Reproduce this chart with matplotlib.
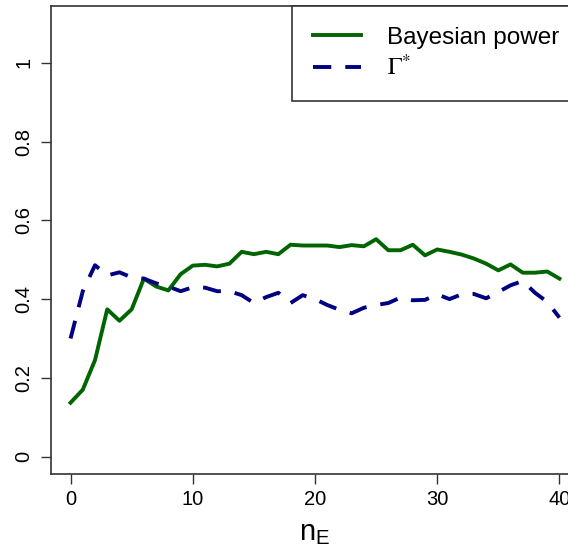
import matplotlib
matplotlib.use('Agg')
import matplotlib.pyplot as plt

plt.rcParams['font.family'] = ['Liberation Sans', 'DejaVu Sans']
plt.rcParams['mathtext.fontset'] = 'stix'

# values, n_E = 0..40
n_e = list(range(41))
bayes_power = [0.137, 0.170, 0.245, 0.374, 0.345, 0.374, 0.452, 0.432, 0.422, 0.463,
               0.485, 0.487, 0.483, 0.490, 0.520, 0.514, 0.520, 0.514, 0.538, 0.536,
               0.536, 0.536, 0.532, 0.537, 0.534, 0.552, 0.524, 0.524, 0.538, 0.511,
               0.526, 0.520, 0.513, 0.503, 0.490, 0.473, 0.488, 0.467, 0.467, 0.470,
               0.452]
gamma_star = [0.300, 0.420, 0.486, 0.460, 0.468, 0.455, 0.452, 0.440, 0.432, 0.420,
              0.430, 0.429, 0.420, 0.420, 0.410, 0.390, 0.405, 0.416, 0.390, 0.410,
              0.400, 0.385, 0.373, 0.364, 0.378, 0.385, 0.390, 0.404, 0.397, 0.398,
              0.412, 0.400, 0.412, 0.413, 0.402, 0.418, 0.435, 0.446, 0.416, 0.393,
              0.353]
x_ticks = [0, 10, 20, 30, 40]
y_ticks = [0, 0.2, 0.4, 0.6, 0.8, 1]
y_labels = ['0', '0.2', '0.4', '0.6', '0.8', '1']

W, H = 568, 547
fig = plt.figure(figsize=(W / 100, H / 100), dpi=100)
# plot region runs past the right edge of the picture, as in the reference
ax = fig.add_axes([51 / W, (H - 474) / H, (579 - 51) / W, (474 - 6) / H])

ax.plot(n_e, bayes_power, color='darkgreen', lw=2.8, label='Bayesian power')
ax.plot(n_e, gamma_star, color='navy', lw=2.8, dashes=(4.7, 3.6), label=r'$\Gamma^{*}$')

ax.set_xlim(-1.6, 41.6)
ax.set_ylim(-0.044, 1.144)
ax.set_xticks(x_ticks)
ax.set_yticks(y_ticks)
ax.set_yticklabels(y_labels, rotation=90, va='center')
ax.tick_params(axis='both', direction='out', length=7.5, width=1, color='#333333',
               labelsize=14.5, labelcolor='black')
ax.tick_params(axis='y', pad=5)
ax.tick_params(axis='x', pad=4)
for sp in ax.spines.values():
    sp.set_color('#333333')
    sp.set_linewidth(1.2)

ax.set_xlabel(r'$\mathregular{n_E}$', fontsize=21, labelpad=7)

leg = ax.legend(loc='upper left', bbox_to_anchor=((292 - 51) / 528, 1.0),
                borderaxespad=0, fontsize=17.5, frameon=True, fancybox=False,
                edgecolor='#333333', framealpha=1, handlelength=2.0,
                handletextpad=1.05, borderpad=0.85, labelspacing=0.25)
leg.get_frame().set_linewidth(1.2)

fig.savefig('out.png', dpi=100)
